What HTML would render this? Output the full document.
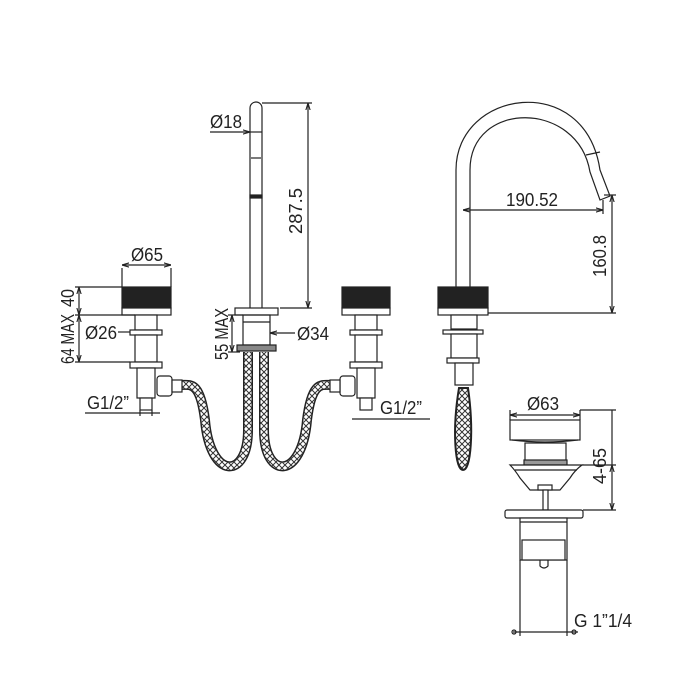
<!DOCTYPE html>
<html><head><meta charset="utf-8"><style>
html,body{margin:0;padding:0;background:#fff;}
svg{display:block}
text{font-family:"Liberation Sans",sans-serif;font-size:18px;fill:#222;}
</style></head><body>
<svg width="700" height="700" viewBox="0 0 700 700" xmlns="http://www.w3.org/2000/svg">
<defs>
<marker id="a" viewBox="0 0 10 10" refX="10" refY="5" markerWidth="6" markerHeight="6" orient="auto-start-reverse"><path d="M0,2 L10,5 L0,8" fill="none" stroke="#222" stroke-width="1.5"/></marker>
<pattern id="mesh" width="6" height="6" patternUnits="userSpaceOnUse"><path d="M0,0 L6,6 M6,0 L0,6" stroke="#333" stroke-width="1"/></pattern>
</defs>
<g fill="none" stroke="#222" stroke-width="1.2">
<path d="M250,308 V108 A6,6 0 0 1 262,108 V308" fill="#fff"/>
<line x1="250" y1="132" x2="262" y2="132"/>
<line x1="251" y1="158" x2="261" y2="158"/>
<rect x="250" y="195" width="12" height="3" fill="#222"/>
<rect x="235" y="308" width="43" height="7" fill="#fff"/>
<rect x="243" y="315" width="27" height="30"/>
<line x1="243" y1="322" x2="270" y2="322"/>
<rect x="237" y="345" width="39" height="6" fill="#888"/>
<line x1="262" y1="103" x2="312" y2="103"/>
<line x1="280" y1="308" x2="312" y2="308"/>
<line x1="308" y1="103" x2="308" y2="308" marker-start="url(#a)" marker-end="url(#a)"/>
<line x1="210" y1="132" x2="250" y2="132" marker-end="url(#a)"/>
<line x1="232" y1="315" x2="232" y2="352" marker-start="url(#a)" marker-end="url(#a)"/>
<line x1="228" y1="315" x2="243" y2="315"/><line x1="228" y1="352" x2="240" y2="352"/>
<line x1="270" y1="333" x2="295" y2="333" marker-start="url(#a)"/>
<path d="M248,352 V430 C248,480 210,480 205,420 C200,380 190,385 180,385" stroke="#222" stroke-width="10"/>
<path d="M248,352 V430 C248,480 210,480 205,420 C200,380 190,385 180,385" stroke="#fff" stroke-width="7"/>
<path d="M248,352 V430 C248,480 210,480 205,420 C200,380 190,385 180,385" stroke="url(#mesh)" stroke-width="7"/>
<path d="M264,352 V430 C264,480 302,480 307,420 C312,380 322,385 332,385" stroke="#222" stroke-width="10"/>
<path d="M264,352 V430 C264,480 302,480 307,420 C312,380 322,385 332,385" stroke="#fff" stroke-width="7"/>
<path d="M264,352 V430 C264,480 302,480 307,420 C312,380 322,385 332,385" stroke="url(#mesh)" stroke-width="7"/>
<rect x="122" y="287" width="49" height="21" fill="#222"/>
<rect x="122" y="308" width="49" height="7" fill="#fff"/>
<line x1="122" y1="287" x2="122" y2="268"/><line x1="171" y1="287" x2="171" y2="268"/>
<line x1="122" y1="265" x2="171" y2="265" marker-start="url(#a)" marker-end="url(#a)"/>
<rect x="135" y="315" width="22" height="15" fill="#fff"/>
<rect x="130" y="330" width="32" height="5" fill="#fff"/>
<rect x="135" y="335" width="22" height="27" fill="#fff"/>
<rect x="130" y="362" width="32" height="6" fill="#fff"/>
<rect x="137" y="368" width="18" height="30" fill="#fff"/>
<rect x="157" y="376" width="15" height="20" rx="3" fill="#fff"/>
<rect x="172" y="380" width="10" height="12" fill="#fff"/>
<rect x="140" y="398" width="12" height="12" fill="#fff"/>
<line x1="75" y1="287" x2="122" y2="287"/><line x1="75" y1="315" x2="135" y2="315"/><line x1="75" y1="362" x2="130" y2="362"/>
<line x1="79" y1="287" x2="79" y2="315" marker-start="url(#a)" marker-end="url(#a)"/>
<line x1="79" y1="315" x2="79" y2="362" marker-start="url(#a)" marker-end="url(#a)"/>
<line x1="118" y1="332" x2="130" y2="332"/>
<line x1="85" y1="413" x2="160" y2="413"/>
<line x1="140" y1="410" x2="140" y2="416"/><line x1="152" y1="410" x2="152" y2="416"/>
<rect x="342" y="287" width="48" height="21" fill="#222"/>
<rect x="342" y="308" width="48" height="7" fill="#fff"/>
<rect x="355" y="315" width="22" height="15" fill="#fff"/>
<rect x="350" y="330" width="32" height="5" fill="#fff"/>
<rect x="355" y="335" width="22" height="27" fill="#fff"/>
<rect x="350" y="362" width="32" height="6" fill="#fff"/>
<rect x="357" y="368" width="18" height="30" fill="#fff"/>
<rect x="340" y="376" width="15" height="20" rx="3" fill="#fff"/>
<rect x="330" y="380" width="10" height="12" fill="#fff"/>
<rect x="360" y="398" width="12" height="12" fill="#fff"/>
<line x1="352" y1="419" x2="430" y2="419"/>
<path d="M456,287 V170 C456,90 585,70 600,170 L610,196 L600,200 L590,172 C578,100 470,100 470,170 V287" fill="#fff"/>
<line x1="586" y1="155" x2="600" y2="152"/>
<rect x="438" y="287" width="50" height="21" fill="#222"/>
<rect x="438" y="308" width="50" height="7" fill="#fff"/>
<rect x="451" y="315" width="26" height="14" fill="#fff"/>
<rect x="443" y="330" width="40" height="4" fill="#fff"/>
<rect x="451" y="334" width="26" height="24" fill="#fff"/>
<rect x="447" y="358" width="32" height="5" fill="#fff"/>
<rect x="455" y="363" width="18" height="22" fill="#fff"/>
<path d="M459,388 C452,430 455,470 463,470 C471,470 474,430 468,388 Z" fill="url(#mesh)" stroke-width="2"/>
<line x1="463" y1="210" x2="603" y2="210" marker-start="url(#a)" marker-end="url(#a)"/>
<line x1="603" y1="200" x2="603" y2="214"/>
<line x1="488" y1="313" x2="616" y2="313"/><line x1="604" y1="195" x2="616" y2="195"/>
<line x1="612" y1="195" x2="612" y2="313" marker-start="url(#a)" marker-end="url(#a)"/>
<line x1="510" y1="415" x2="580" y2="415" marker-start="url(#a)" marker-end="url(#a)"/>
<line x1="510" y1="410" x2="510" y2="420"/><line x1="580" y1="410" x2="580" y2="420"/>
<rect x="510" y="420" width="70" height="20" fill="#fff"/>
<path d="M512,440 Q545,444 578,440" />
<rect x="525" y="443" width="41" height="20" fill="#fff"/>
<rect x="524" y="460" width="43" height="5" fill="#999"/>
<path d="M510,465 H582 Q575,470 570,478 L560,490 H530 L520,478 Q515,470 510,465 Z" fill="#fff"/>
<line x1="515" y1="470" x2="577" y2="470"/>
<rect x="538" y="485" width="14" height="5" fill="#fff"/>
<rect x="543" y="490" width="5" height="20" fill="#fff"/>
<rect x="505" y="510" width="78" height="8" rx="2" fill="#fff"/>
<rect x="520" y="518" width="47" height="42" fill="#fff"/>
<line x1="520" y1="522" x2="567" y2="522"/>
<rect x="522" y="540" width="43" height="20" fill="#fff"/>
<path d="M540,560 V566 Q544,570 548,566 V560"/>
<line x1="580" y1="410" x2="616" y2="410"/><line x1="582" y1="465" x2="616" y2="465"/><line x1="583" y1="510" x2="616" y2="510"/>
<line x1="612" y1="410" x2="612" y2="465"/>
<line x1="612" y1="465" x2="612" y2="510" marker-start="url(#a)" marker-end="url(#a)"/>
<line x1="520" y1="560" x2="520" y2="636"/><line x1="567" y1="560" x2="567" y2="636"/>
<line x1="513" y1="632" x2="578" y2="632"/>
<circle cx="514" cy="632" r="2"/><circle cx="574" cy="632" r="2"/>
</g>
<g lengthAdjust="spacingAndGlyphs">
<text x="210" y="128" textLength="32" lengthAdjust="spacingAndGlyphs">Ø18</text>
<text x="131" y="261" textLength="32" lengthAdjust="spacingAndGlyphs">Ø65</text>
<text x="85" y="339" textLength="32" lengthAdjust="spacingAndGlyphs">Ø26</text>
<text x="297" y="340" textLength="32" lengthAdjust="spacingAndGlyphs">Ø34</text>
<text x="87" y="409" textLength="42" lengthAdjust="spacingAndGlyphs">G1/2”</text>
<text x="380" y="414" textLength="42" lengthAdjust="spacingAndGlyphs">G1/2”</text>
<text x="506" y="206" textLength="52" lengthAdjust="spacingAndGlyphs">190.52</text>
<text x="527" y="410" textLength="32" lengthAdjust="spacingAndGlyphs">Ø63</text>
<text x="574" y="627" textLength="58" lengthAdjust="spacingAndGlyphs">G 1”1/4</text>
<text transform="translate(302,234) rotate(-90)" textLength="46" lengthAdjust="spacingAndGlyphs">287.5</text>
<text transform="translate(74,307) rotate(-90)" textLength="18" lengthAdjust="spacingAndGlyphs">40</text>
<text transform="translate(74,364) rotate(-90)" textLength="50" lengthAdjust="spacingAndGlyphs">64 MAX</text>
<text transform="translate(228,360) rotate(-90)" textLength="52" lengthAdjust="spacingAndGlyphs">55 MAX</text>
<text transform="translate(606,277) rotate(-90)" textLength="42" lengthAdjust="spacingAndGlyphs">160.8</text>
<text transform="translate(606,484) rotate(-90)" textLength="36" lengthAdjust="spacingAndGlyphs">4-65</text>
</g>
</svg>
</body></html>
